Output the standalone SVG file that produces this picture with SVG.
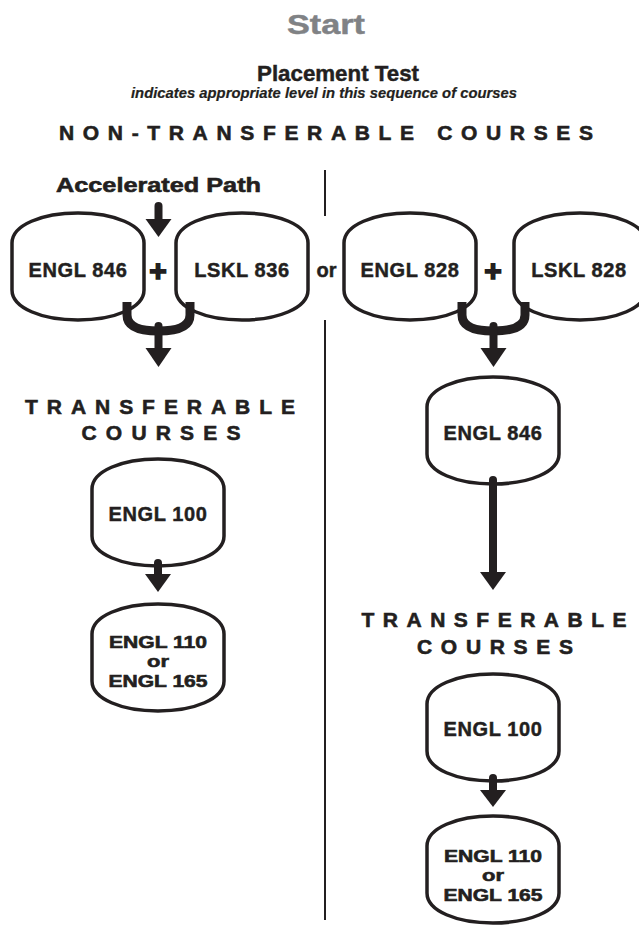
<svg xmlns="http://www.w3.org/2000/svg" xmlns:xlink="http://www.w3.org/1999/xlink" width="639" height="925" viewBox="0 0 639 925">
  <style>
    text { font-family: "Liberation Sans", Arial, sans-serif; font-weight: bold; fill: #231f20; stroke: #231f20; stroke-width: 0.45px; text-anchor: middle; }
    .start { font-size: 28px; fill: #808285; stroke: #808285; }
    .title { font-size: 22px; }
    .sub { font-size: 14px; font-style: italic; stroke-width: 0.2px; }
    .head { font-size: 21px; stroke-width: 0.6px; }
    .lbl { font-size: 20px; letter-spacing: 0.6px; }
    .multi { font-size: 17.4px; letter-spacing: 0; stroke-width: 0.6px; }
    .plus { font-size: 30px; stroke-width: 1.6px; }
    .node { fill: #ffffff; stroke: #231f20; stroke-width: 3.5; stroke-linejoin: round; }
    .shaft { fill: none; stroke: #231f20; stroke-width: 8; stroke-linecap: round; }
    .fork { fill: none; stroke: #231f20; stroke-width: 9; stroke-linecap: butt; }
    .head-tri { fill: #231f20; }
    .divider { stroke: #231f20; stroke-width: 2; }
  </style>
  <defs>
    <path id="pillow" d="M0,30 C0,12 30,0 66,0 C102,0 132,12 132,30 L132,77 C132,95 102,107 66,107 C30,107 0,95 0,77 Z"/>
  </defs>

  <g id="titles">
    <text class="start" x="326" y="34" textLength="78" lengthAdjust="spacingAndGlyphs">Start</text>
    <text class="title" x="338" y="81" textLength="162" lengthAdjust="spacingAndGlyphs">Placement Test</text>
    <text class="sub" x="324" y="98" textLength="386" lengthAdjust="spacingAndGlyphs">indicates appropriate level in this sequence of courses</text>
    <text class="head" x="326" y="140" textLength="534" lengthAdjust="spacing">NON-TRANSFERABLE COURSES</text>
    <text class="head" x="158.5" y="192" textLength="205" lengthAdjust="spacingAndGlyphs">Accelerated Path</text>
    <text class="head" x="160" y="414" textLength="270" lengthAdjust="spacing">TRANSFERABLE</text>
    <text class="head" x="161" y="440" textLength="159" lengthAdjust="spacing">COURSES</text>
    <text class="head" x="494" y="627" textLength="265" lengthAdjust="spacing">TRANSFERABLE</text>
    <text class="head" x="495" y="654" textLength="156" lengthAdjust="spacing">COURSES</text>
    <text class="plus" x="158" y="280.5">+</text>
    <text class="plus" x="493" y="280.5">+</text>
    <text class="lbl" x="326.5" y="277" style="letter-spacing:0">or</text>
  </g>

  <g id="divider">
    <line class="divider" x1="325" y1="170" x2="325" y2="216"/>
    <line class="divider" x1="325" y1="320" x2="325" y2="920"/>
  </g>

  <g id="node-engl846-a" transform="translate(12,213)">
    <use xlink:href="#pillow" class="node"/>
    <text class="lbl" x="66" y="64">ENGL 846</text>
  </g>
  <g id="node-lskl836" transform="translate(176,213)">
    <use xlink:href="#pillow" class="node"/>
    <text class="lbl" x="66" y="64">LSKL 836</text>
  </g>
  <g id="node-engl828" transform="translate(344,213)">
    <use xlink:href="#pillow" class="node"/>
    <text class="lbl" x="66" y="64">ENGL 828</text>
  </g>
  <g id="node-lskl828" transform="translate(514,213)">
    <use xlink:href="#pillow" class="node"/>
    <text class="lbl" x="65" y="64">LSKL 828</text>
  </g>
  <g id="node-engl846-b" transform="translate(427,377)">
    <use xlink:href="#pillow" class="node"/>
    <text class="lbl" x="66" y="63">ENGL 846</text>
  </g>
  <g id="node-engl100-a" transform="translate(92,459)">
    <use xlink:href="#pillow" class="node"/>
    <text class="lbl" x="66" y="62">ENGL 100</text>
  </g>
  <g id="node-engl110-a" transform="translate(92,604)">
    <use xlink:href="#pillow" class="node"/>
    <text class="multi" x="66" y="43.5" textLength="98" lengthAdjust="spacingAndGlyphs">ENGL 110</text>
    <text class="multi" x="66" y="63" textLength="22" lengthAdjust="spacingAndGlyphs">or</text>
    <text class="multi" x="66" y="82.5" textLength="99" lengthAdjust="spacingAndGlyphs">ENGL 165</text>
  </g>
  <g id="node-engl100-b" transform="translate(427,674)">
    <use xlink:href="#pillow" class="node"/>
    <text class="lbl" x="66" y="62">ENGL 100</text>
  </g>
  <g id="node-engl110-b" transform="translate(427,816)">
    <use xlink:href="#pillow" class="node"/>
    <text class="multi" x="66" y="45.5" textLength="98" lengthAdjust="spacingAndGlyphs">ENGL 110</text>
    <text class="multi" x="66" y="65" textLength="22" lengthAdjust="spacingAndGlyphs">or</text>
    <text class="multi" x="66" y="84.5" textLength="99" lengthAdjust="spacingAndGlyphs">ENGL 165</text>
  </g>

  <g id="connectors">
    <!-- Accelerated path arrow -->
    <line class="shaft" x1="158.5" y1="206" x2="158.5" y2="222"/>
    <polygon class="head-tri" points="145.5,219 171.5,219 158.5,237"/>
    <!-- left merge -->
    <path class="fork" d="M127,302 V315 C127,327 140,331 158.5,331 C177,331 190,327 190,315 V302"/>
    <line class="shaft" x1="158.5" y1="326" x2="158.5" y2="350"/>
    <polygon class="head-tri" points="145.5,348 171.5,348 158.5,367"/>
    <!-- right merge -->
    <path class="fork" d="M462,302 V315 C462,327 475,331 493.5,331 C512,331 525,327 525,315 V302"/>
    <line class="shaft" x1="493.5" y1="326" x2="493.5" y2="350"/>
    <polygon class="head-tri" points="480.5,348 506.5,348 493.5,367"/>
    <!-- right ENGL 846 to transferable -->
    <line class="shaft" x1="493" y1="480" x2="493" y2="574"/>
    <polygon class="head-tri" points="480,572 506,572 493,590"/>
    <!-- left ENGL 100 to ENGL 110 -->
    <line class="shaft" x1="158" y1="563" x2="158" y2="576"/>
    <polygon class="head-tri" points="145,574 171,574 158,592"/>
    <!-- right ENGL 100 to ENGL 110 -->
    <line class="shaft" x1="493" y1="778" x2="493" y2="792"/>
    <polygon class="head-tri" points="480,790 506,790 493,807"/>
  </g>
</svg>
